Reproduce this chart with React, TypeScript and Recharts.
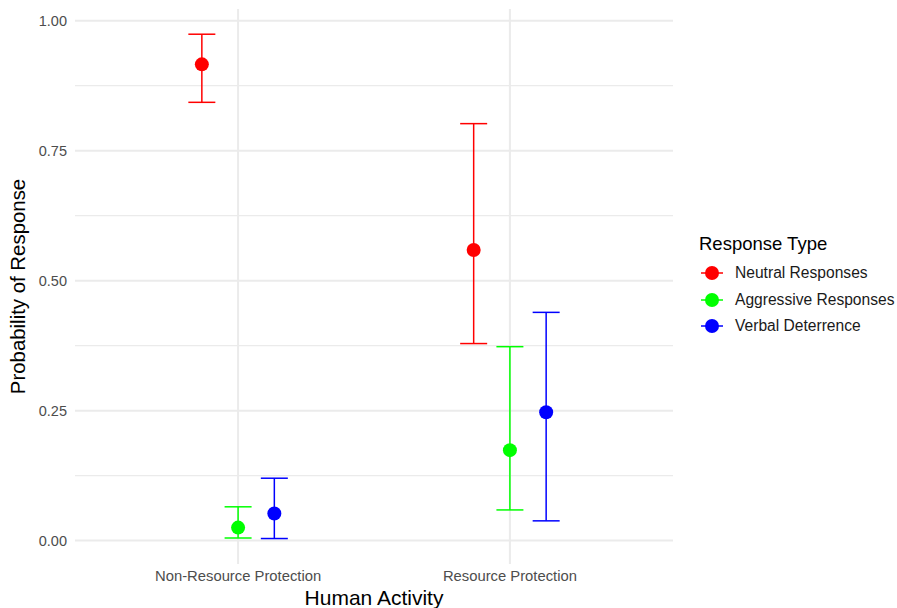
import React from "react"
import { ScatterChart, Scatter, XAxis, YAxis, ErrorBar, ReferenceLine } from "recharts"

const categories = ["Non-Resource Protection", "Resource Protection"]

const neutralMean = [0.916, 0.559]
const neutralLow = [0.843, 0.379]
const neutralHigh = [0.974, 0.802]

const aggressiveMean = [0.025, 0.174]
const aggressiveLow = [0.005, 0.059]
const aggressiveHigh = [0.065, 0.373]

const verbalMean = [0.052, 0.247]
const verbalLow = [0.004, 0.038]
const verbalHigh = [0.12, 0.439]

const yTicks = [0, 0.25, 0.5, 0.75, 1]
const yMinorTicks = [0.125, 0.375, 0.625, 0.875]
const xTicks = [1, 2]

const FONT = "'Liberation Sans', Arial, Helvetica, sans-serif"
const DODGE = 0.4
const GRID = "#EBEBEB"

const series = [
  { name: "Neutral Responses", color: "#FF0000", mean: neutralMean, low: neutralLow, high: neutralHigh },
  { name: "Aggressive Responses", color: "#00FF00", mean: aggressiveMean, low: aggressiveLow, high: aggressiveHigh },
  { name: "Verbal Deterrence", color: "#0000FF", mean: verbalMean, low: verbalLow, high: verbalHigh },
]

function buildData(idx: number) {
  const s = series[idx]
  const offset = (idx - (series.length - 1) / 2) * (DODGE / series.length)
  return categories.map((c, i) => ({
    x: i + 1 + offset,
    y: s.mean[i],
    err: [s.mean[i] - s.low[i], s.high[i] - s.mean[i]],
    category: c,
  }))
}

const dot = (color: string) => (props: any) => <circle cx={props.cx} cy={props.cy} r={7} fill={color} />

function LegendBox() {
  return (
    <div style={{ position: "absolute", left: 699, top: 232, fontFamily: FONT, color: "#1a1a1a" }}>
      <div style={{ fontSize: 18.5, color: "#000", lineHeight: "24px", marginBottom: 4 }}>Response Type</div>
      {series.map((s) => (
        <div key={s.name} style={{ display: "flex", alignItems: "center", height: 26.5, whiteSpace: "nowrap" }}>
          <svg width={26} height={20} style={{ marginRight: 10 }}>
            <line x1={2} y1={10} x2={24} y2={10} stroke={s.color} strokeWidth={1.5} />
            <circle cx={13} cy={10} r={7} fill={s.color} />
          </svg>
          <span style={{ fontSize: 15.6 }}>{s.name}</span>
        </div>
      ))}
    </div>
  )
}

export default function App() {
  return (
    <div style={{ position: "absolute", left: 0, top: 0, width: 897, height: 608, background: "#fff" }}>
      <ScatterChart width={897} height={608} margin={{ top: 9, right: 224, bottom: 0, left: 0 }}>
        {yMinorTicks.map((t) => (
          <ReferenceLine key={`m${t}`} y={t} stroke={GRID} strokeWidth={1.2} />
        ))}
        {yTicks.map((t) => (
          <ReferenceLine key={`y${t}`} y={t} stroke={GRID} strokeWidth={2} />
        ))}
        {xTicks.map((t) => (
          <ReferenceLine key={`x${t}`} x={t} stroke={GRID} strokeWidth={2} />
        ))}
        <XAxis
          type="number"
          dataKey="x"
          domain={[0.4, 2.6]}
          ticks={xTicks}
          allowDataOverflow
          tickFormatter={(v: number) => categories[Math.round(v) - 1]}
          tickLine={false}
          axisLine={false}
          tickMargin={0}
          height={44}
          tick={{ fill: "#4D4D4D", fontSize: 14.8, fontFamily: FONT }}
          label={{ value: "Human Activity", position: "insideBottom", offset: 3, fill: "#000", fontSize: 21, fontFamily: FONT }}
        />
        <YAxis
          type="number"
          dataKey="y"
          domain={[-0.045, 1.0225]}
          ticks={yTicks}
          allowDataOverflow
          tickFormatter={(v: number) => v.toFixed(2)}
          tickLine={false}
          axisLine={false}
          width={75}
          tick={{ fill: "#4D4D4D", fontSize: 14.5, fontFamily: FONT }}
          label={{
            value: "Probability of Response",
            angle: -90,
            position: "insideLeft",
            offset: 18,
            fill: "#000",
            fontSize: 20.4,
            fontFamily: FONT,
            style: { textAnchor: "middle" },
          }}
        />
        {series.map((s, i) => (
          <Scatter
            key={s.name}
            name={s.name}
            data={buildData(i)}
            fill={s.color}
            shape={dot(s.color)}
            isAnimationActive={false}
          >
            <ErrorBar dataKey="err" direction="y" width={13.5} stroke={s.color} strokeWidth={1.5} />
          </Scatter>
        ))}
      </ScatterChart>
      <LegendBox />
    </div>
  )
}
